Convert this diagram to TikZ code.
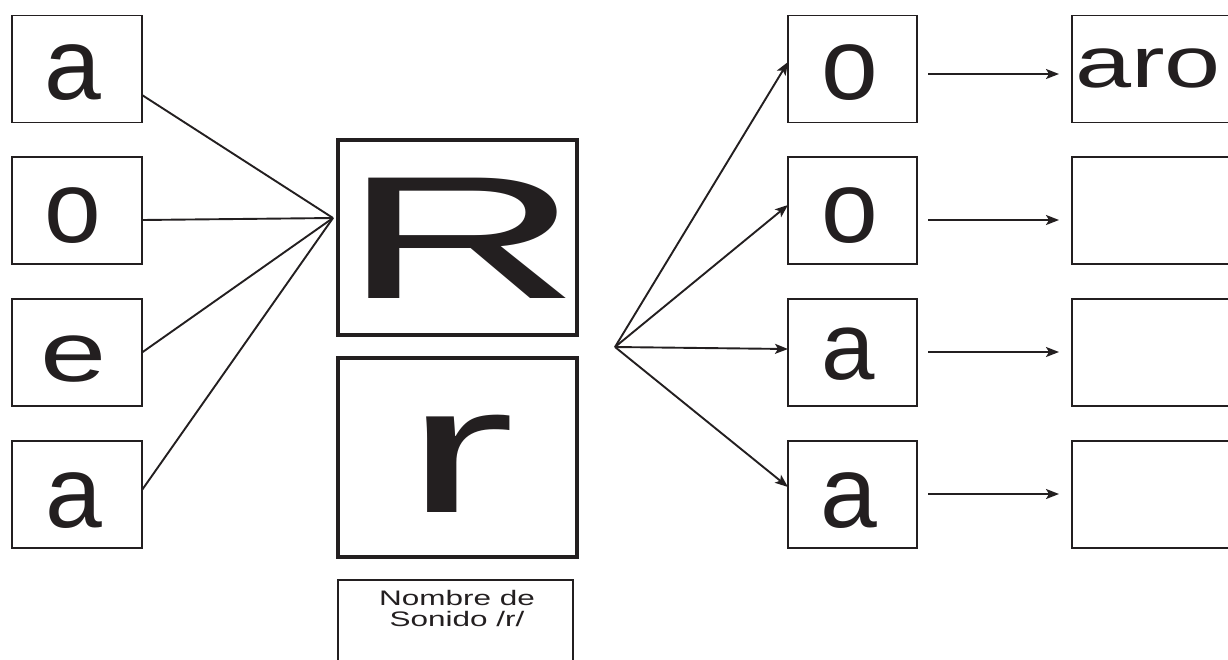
\documentclass[tikz,border=0pt]{standalone}
\usepackage{fontspec}
\setmainfont{Liberation Sans}
\usepackage{graphicx}
\usetikzlibrary{arrows.meta,calc}
\definecolor{ink}{RGB}{35,31,32}
\begin{document}
\begin{tikzpicture}[x=1pt,y=-1pt,
  lbox/.style={draw=ink, line width=1.8pt, minimum width=130pt, minimum height=107pt, inner sep=0pt, outer sep=0pt},
  bigbox/.style={draw=ink, line width=3.5pt, minimum width=239pt, inner sep=0pt, outer sep=0pt},
  namebox/.style={draw=ink, line width=2.5pt, minimum width=235pt, minimum height=110pt, inner sep=0pt, outer sep=0pt},
  glyph/.style={text=ink, anchor=base, inner sep=0pt, font=\fontsize{102}{102}\selectfont},
  small/.style={text=ink, anchor=base, inner sep=0pt, font=\fontsize{21}{21}\selectfont},
  conn/.style={draw=ink, line width=1.9pt},
  arr/.style={draw=ink, line width=1.9pt, -{Stealth[length=13pt,width=10pt,inset=3pt]}}
]
\useasboundingbox (0,0) rectangle (1228,659);
\clip (0,0) rectangle (1228,659);

% left column
\node[lbox] (L1) at (77,69) {};
\node[lbox] (L2) at (77,210.5) {};
\node[lbox] (L3) at (77,352.5) {};
\node[lbox] (L4) at (77,494.5) {};
\node[glyph] (tL1) at (73,99) {a};
\node[glyph] (tL2) at (73,242) {o};
\node[glyph, font=\fontsize{85}{85}\selectfont] (tL3) at (73.5,381) {\scalebox{1.4}[1]{e}};
\node[glyph] (tL4) at (74,527) {a};

% centre
\node[bigbox, minimum height=195pt] (R) at (457.5,237.5) {};
\node[bigbox, minimum height=199pt] (r) at (457.5,457.5) {};
\node[namebox] (N) at (455.5,635) {};
\node[glyph, font=\fontsize{175}{175}\selectfont] (tR) at (462,298) {\scalebox{1.9}[1]{R}};
\node[glyph, font=\fontsize{181}{181}\selectfont] (tr) at (460,512) {\scalebox{1.84}[1]{r}};
\node[small] (n1) at (457,605) {\scalebox{1.5}[1]{Nombre de}};
\node[small] (n2) at (457,626) {\scalebox{1.5}[1]{Sonido /r/}};

% right letters
\node[lbox, minimum width=129pt] (M1) at (852.5,69) {};
\node[lbox, minimum width=129pt] (M2) at (852.5,210.5) {};
\node[lbox, minimum width=129pt] (M3) at (852.5,352.5) {};
\node[lbox, minimum width=129pt] (M4) at (852.5,494.5) {};
\node[glyph] (tM1) at (850,99) {o};
\node[glyph] (tM2) at (850,242) {o};
\node[glyph, font=\fontsize{96}{96}\selectfont] (tM3) at (848.5,379) {a};
\node[glyph] (tM4) at (848.5,527) {a};

% result boxes
\node[lbox, minimum width=178pt] (W1) at (1161,69) {};
\node[lbox, minimum width=178pt] (W2) at (1161,210.5) {};
\node[lbox, minimum width=178pt] (W3) at (1161,352.5) {};
\node[lbox, minimum width=178pt] (W4) at (1161,494.5) {};
\node[glyph, anchor=base west, font=\fontsize{72}{72}\selectfont] (tW1) at (1075,87) {\scalebox{1.4}[1]{aro}};

% connectors left
\coordinate (hubL) at (333,218);
\draw[conn] ([yshift=-26pt]L1.east) -- (hubL);
\draw[conn] ([yshift=-9.5pt]L2.east) -- (hubL);
\draw[conn] (L3.east) -- (hubL);
\draw[conn] ([yshift=4.5pt]L4.east) -- (hubL);

% connectors right fan
\coordinate (hubR) at (615,347);
\draw[arr] (hubR) -- ([yshift=7pt]M1.west);
\draw[arr] (hubR) -- ([yshift=5.5pt]M2.west);
\draw[arr] (hubR) -- ([yshift=3.5pt]M3.west);
\draw[arr] (hubR) -- ([yshift=7.5pt]M4.west);

% horizontal arrows
\draw[arr] ([xshift=11pt,yshift=-5pt]M1.east) -- ([xshift=-13pt,yshift=-5pt]W1.west);
\draw[arr] ([xshift=11pt,yshift=-9.5pt]M2.east) -- ([xshift=-13pt,yshift=-9.5pt]W2.west);
\draw[arr] ([xshift=11pt,yshift=0.5pt]M3.east) -- ([xshift=-13pt,yshift=0.5pt]W3.west);
\draw[arr] ([xshift=11pt,yshift=0.5pt]M4.east) -- ([xshift=-13pt,yshift=0.5pt]W4.west);
\end{tikzpicture}
\end{document}
